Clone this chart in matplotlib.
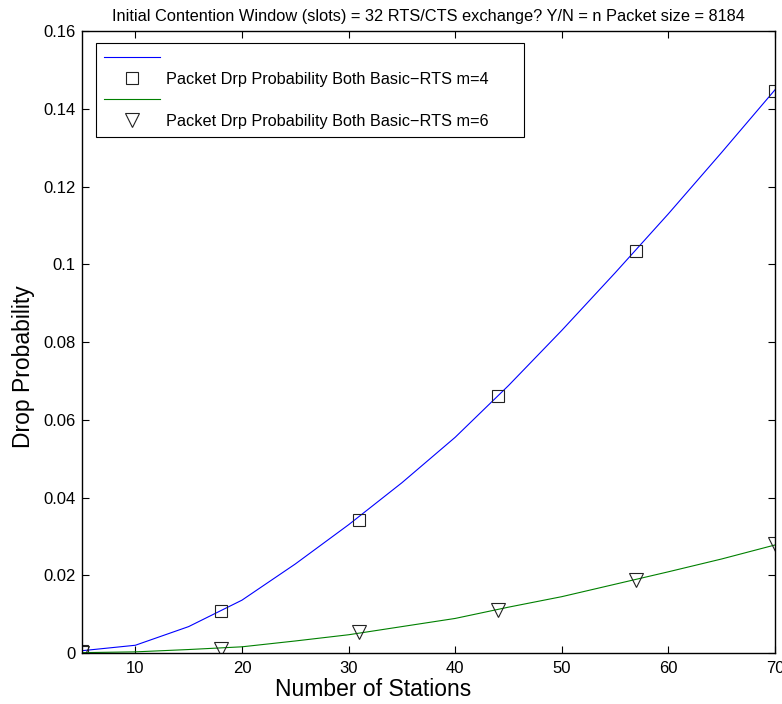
import matplotlib
matplotlib.use('Agg')
import matplotlib.pyplot as plt
import numpy as np

# Data
stations = [5, 10, 15, 20, 25, 30, 35, 40, 45, 50, 55, 60, 65, 70]
drop_m4 = [0.0006, 0.0020, 0.0068, 0.0136, 0.0229, 0.0330, 0.0438, 0.0555,
           0.0688, 0.0830, 0.0978, 0.1130, 0.1288, 0.1449]
drop_m6 = [0.0001, 0.0003, 0.0009, 0.0016, 0.0031, 0.0047, 0.0068, 0.0089,
           0.0118, 0.0145, 0.0177, 0.0209, 0.0242, 0.0278]

marker_x = [5, 18, 31, 44, 57, 70]
marker_m4 = [0.0005, 0.0108, 0.0342, 0.0662, 0.1035, 0.1447]
marker_m6 = [0.0000, 0.0011, 0.0053, 0.0111, 0.0189, 0.0280]

yticks = [0, 0.02, 0.04, 0.06, 0.08, 0.1, 0.12, 0.14, 0.16]
ytick_labels = ['0', '0.02', '0.04', '0.06', '0.08', '0.1', '0.12', '0.14', '0.16']
xticks = [10, 20, 30, 40, 50, 60, 70]

plt.rcParams['font.family'] = ['Liberation Sans', 'DejaVu Sans']

# Layout
fig = plt.figure(figsize=(7.82, 7.04), dpi=100)
ax = fig.add_axes([0.1049, 0.0724, 0.8862, 0.8835])

# Plot
l1, = ax.plot(stations, drop_m4, color='#0000ff', lw=0.8)
m1, = ax.plot(marker_x, marker_m4, ls='none', marker='s', ms=8.3,
              mfc='none', mec='#222222', mew=0.8)
l2, = ax.plot(stations, drop_m6, color='#008000', lw=0.8)
m2, = ax.plot(marker_x, marker_m6, ls='none', marker='v', ms=10.5,
              mfc='none', mec='#222222', mew=0.8)

# Details
ax.set_xlim(5, 70)
ax.set_ylim(0, 0.16)
ax.set_xticks(xticks)
ax.set_yticks(yticks)
ax.set_yticklabels(ytick_labels)
ax.tick_params(direction='in', top=True, right=True, labelsize=12,
               length=5, width=0.8)
ax.tick_params(axis='x', pad=6)
ax.tick_params(axis='y', pad=4.5)
for s in ax.spines.values():
    s.set_linewidth(1.0)

ax.set_xlabel('Number of Stations', fontsize=16.5, labelpad=1, x=0.42)
ax.set_ylabel('Drop Probability', fontsize=16.5, labelpad=6, y=0.46)
ax.set_title('Initial Contention Window (slots) = 32 RTS/CTS exchange? Y/N = n Packet size = 8184',
             fontsize=11.8, pad=7)

leg = ax.legend([l1, m1, l2, m2],
                ['', 'Packet Drp Probability Both Basic\u2212RTS m=4      ',
                 '', 'Packet Drp Probability Both Basic\u2212RTS m=6      '],
                loc='upper left', bbox_to_anchor=(0.02, 0.981), borderaxespad=0,
                fontsize=11.7, handlelength=3.45, handletextpad=0.37,
                labelspacing=0.36, borderpad=0.5, fancybox=False,
                framealpha=1, edgecolor='black')
leg.get_frame().set_linewidth(0.8)

# Save
fig.savefig('out.png', dpi=100)
